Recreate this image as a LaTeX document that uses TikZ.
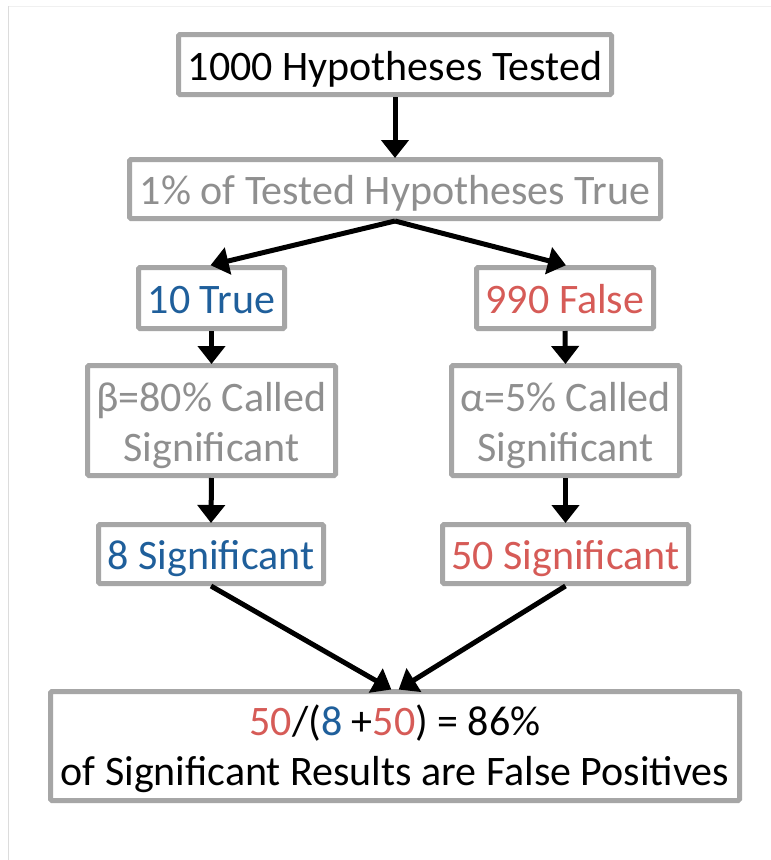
\documentclass[tikz,border=0pt]{standalone}
\usepackage{fontspec}
\setmainfont{Carlito}
\usetikzlibrary{arrows.meta}
\definecolor{boxgray}{HTML}{A6A6A6}
\definecolor{txtgray}{HTML}{8F8F8F}
\definecolor{tblue}{HTML}{1F5F9B}
\definecolor{tred}{HTML}{D65B57}
\definecolor{framel}{HTML}{DCDCDC}
\definecolor{framet}{HTML}{F0F0F0}
\begin{document}
\begin{tikzpicture}[x=1pt,y=-1pt,
  box/.style={draw=boxgray, line width=5pt, rounded corners=1.5pt, fill=white,
    inner sep=0pt, align=center, font=\fontsize{42}{50}\selectfont},
  onebox/.style={box, text height=40pt, text depth=9pt},
  twobox/.style={box, text height=91pt, text depth=9pt},
  arr/.style={line width=5pt, -{Triangle[width=27pt,length=18pt]}, shorten >=-1pt}
]
\useasboundingbox (0,0) rectangle (771,860);
\fill[white] (0,0) rectangle (771,860);
\draw[framet, line width=1pt] (8,6) -- (771,6);
\draw[framel, line width=1pt] (8,6) -- (8,860);

\node[onebox, minimum width=433pt, minimum height=60pt] (n1) at (395,64.5) {1000 Hypotheses Tested};
\node[onebox, minimum width=531pt, minimum height=59pt, text=txtgray] (n2) at (395,189) {1\% of Tested Hypotheses True};
\node[onebox, minimum width=146pt, minimum height=61pt, text=tblue] (n3) at (211.5,298) {10 True};
\node[onebox, minimum width=177pt, minimum height=61pt, text=tred] (n4) at (565,298) {990 False};
\node[twobox, minimum width=248pt, minimum height=110pt, text=txtgray] (n5) at (211.5,420.5) {β=80\% Called\\Significant};
\node[twobox, minimum width=228pt, minimum height=110pt, text=txtgray] (n6) at (565.5,420.5) {α=5\% Called\\Significant};
\node[onebox, minimum width=225pt, minimum height=59pt, text=tblue] (n7) at (211,554) {8 Significant};
\node[onebox, minimum width=246pt, minimum height=59pt, text=tred] (n8) at (565.5,554) {50 Significant};
\node[box, text height=87pt, text depth=9pt, minimum width=689pt, minimum height=109pt] (n9) at (395,746)
  {\textcolor{tred}{50}/(\textcolor{tblue}{8} +\textcolor{tred}{50}) = 86\%\\of Significant Results are False Positives};

\coordinate (t1) at ([xshift=-4.5pt]n9.north);
\coordinate (t2) at ([xshift=4.5pt]n9.north);

\draw[arr] (n1.south) -- (n2.north);
\draw[arr] (n2.south) -- (n3.north);
\draw[arr] (n2.south) -- (n4.north);
\draw[arr] (n3.south) -- (n5.north);
\draw[arr] (n4.south) -- (n6.north);
\draw[arr] (n5.south) -- (n7.north);
\draw[arr] (n6.south) -- (n8.north);
\draw[arr] (n7.south) -- (t1);
\draw[arr] (n8.south) -- (t2);
\end{tikzpicture}
\end{document}
